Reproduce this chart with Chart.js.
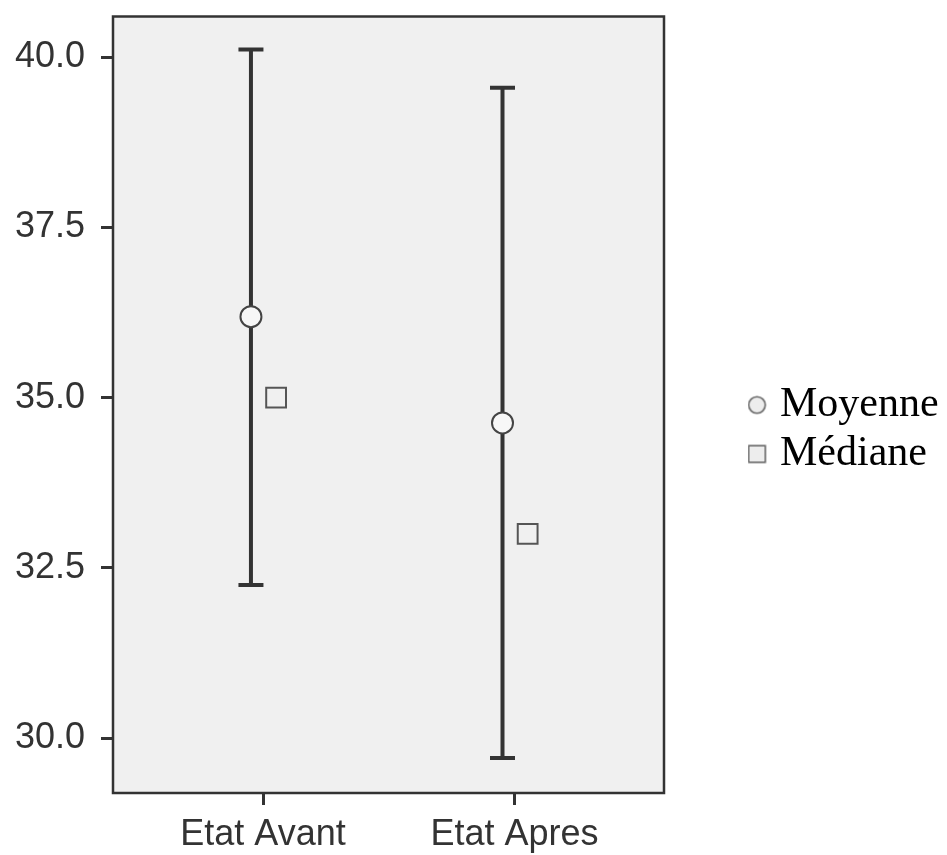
<!DOCTYPE html>
<html><head><meta charset="utf-8">
<script src="https://cdn.jsdelivr.net/npm/chart.js@4/dist/chart.umd.min.js"></script>
<style>html,body{margin:0;padding:0;background:#fff}</style>
</head><body>
<canvas id="c" width="947" height="855" style="display:block;width:947px;height:855px"></canvas>
<script>
// ---- data ----
const categories = ['Etat Avant', 'Etat Apres'];
const meanValues = [36.19, 34.63];
const medianValues = [35.0, 33.0];
const lowerValues = [32.25, 29.71];
const upperValues = [40.11, 39.55];
const yTickValues = [30.0, 32.5, 35.0, 37.5, 40.0];
const legendLabels = ['Moyenne', 'Médiane'];

// ---- layout constants ----
const MEAN_OFFSET = -0.048;
const MEDIAN_OFFSET = 0.052;
const TICK_FONT = {family: "'Liberation Sans', Arial, sans-serif", size: 36};

function makeMarker(kind) {
  const c = document.createElement('canvas');
  c.width = 21; c.height = 21;
  const g = c.getContext('2d');
  g.lineWidth = 1.6; g.strokeStyle = '#666'; g.fillStyle = '#ededed';
  if (kind === 'circle') {
    g.beginPath(); g.arc(10.5, 10.5, 8.3, 0, Math.PI * 2); g.fill(); g.stroke();
  } else {
    g.fillRect(2.2, 2.2, 16.6, 16.6); g.strokeRect(2.2, 2.2, 16.6, 16.6);
  }
  return c;
}
const legendMarkers = [makeMarker('circle'), makeMarker('rect')];

const errorDatasets = categories.map((c, i) => ({
  label: 'err' + i,
  data: [{x: i + 1 + MEAN_OFFSET, y: lowerValues[i]}, {x: i + 1 + MEAN_OFFSET, y: upperValues[i]}],
  showLine: true,
  borderColor: '#333',
  borderWidth: 4,
  pointStyle: 'line',
  pointRadius: 12.5,
  pointHoverRadius: 12.5,
  pointBorderWidth: 4,
  pointBorderColor: '#333',
  order: 3
}));

const meanDataset = {
  label: legendLabels[0],
  data: meanValues.map((v, i) => ({x: i + 1 + MEAN_OFFSET, y: v})),
  pointStyle: 'circle',
  pointRadius: 10.5,
  pointHoverRadius: 10.5,
  pointBorderWidth: 2,
  pointBorderColor: '#444',
  pointBackgroundColor: '#f7f7f7',
  order: 1
};
const medianDataset = {
  label: legendLabels[1],
  data: medianValues.map((v, i) => ({x: i + 1 + MEDIAN_OFFSET, y: v})),
  pointStyle: 'rect',
  pointRadius: 14,
  pointHoverRadius: 14,
  pointBorderWidth: 2,
  pointBorderColor: '#555',
  pointBackgroundColor: '#f0f0f0',
  order: 2
};

const framePlugin = {
  id: 'frame',
  beforeDatasetsDraw(chart) {
    const {ctx, chartArea: a} = chart;
    ctx.save();
    ctx.fillStyle = '#f0f0f0';
    ctx.fillRect(a.left, a.top, a.width, a.height);
    ctx.lineWidth = 2.5;
    ctx.strokeStyle = '#333';
    ctx.strokeRect(a.left, a.top, a.width, a.height);
    ctx.restore();
  }
};

const legendPlacer = {
  id: 'legendPlacer',
  afterInit(chart) {
    const lg = chart.legend;
    const orig = lg.fit.bind(lg);
    lg.fit = function () { orig(); this.width = 283; };
  },
  afterLayout(chart) {
    const lg = chart.legend;
    const h = lg.height;
    lg.left = 748; lg.right = 947;
    lg.top = 377; lg.bottom = 377 + h;
  }
};

function noPad(s) { s.paddingTop = 0; s.paddingBottom = 0; s.paddingLeft = 0; s.paddingRight = 0; }

new Chart(document.getElementById('c'), {
  type: 'scatter',
  data: {datasets: [...errorDatasets, meanDataset, medianDataset]},
  plugins: [framePlugin, legendPlacer],
  options: {
    responsive: false,
    animation: false,
    layout: {padding: {top: 12.5, left: 0, right: 0, bottom: 0}},
    plugins: {
      tooltip: {enabled: false},
      legend: {
        position: 'right',
        align: 'start',
        labels: {
          usePointStyle: true,
          boxWidth: 4,
          boxHeight: 4,
          padding: 7,
          color: '#000',
          font: {family: "'Liberation Serif', 'Times New Roman', serif", size: 42},
          generateLabels: () => legendLabels.map((t, i) => ({
            text: t,
            pointStyle: legendMarkers[i],
            fillStyle: '#eee',
            strokeStyle: '#666',
            lineWidth: 0,
            hidden: false,
            datasetIndex: categories.length + i
          }))
        }
      }
    },
    scales: {
      x: {
        type: 'linear',
        min: 0.4036,
        max: 2.594,
        afterFit: s => { s.height = 62; noPad(s); },
        afterBuildTicks: s => { s.ticks = categories.map((c, i) => ({value: i + 1})); },
        border: {display: false},
        grid: {display: true, drawOnChartArea: false, drawTicks: true, tickLength: 12, tickWidth: 3, tickColor: '#333', color: '#333'},
        ticks: {font: TICK_FONT, color: '#333', padding: 8, maxRotation: 0, autoSkip: false,
          callback: v => categories[Math.round(v) - 1]}
      },
      y: {
        type: 'linear',
        min: 29.197,
        max: 40.596,
        afterFit: s => { s.width = 113; noPad(s); },
        afterBuildTicks: s => { s.ticks = yTickValues.map(v => ({value: v})); },
        border: {display: false},
        grid: {display: true, drawOnChartArea: false, drawTicks: true, tickLength: 12, tickWidth: 3, tickColor: '#333', color: '#333'},
        ticks: {font: TICK_FONT, color: '#333', padding: 16, autoSkip: false,
          callback: v => Number(v).toFixed(1)}
      }
    }
  }
});
</script>
</body></html>
